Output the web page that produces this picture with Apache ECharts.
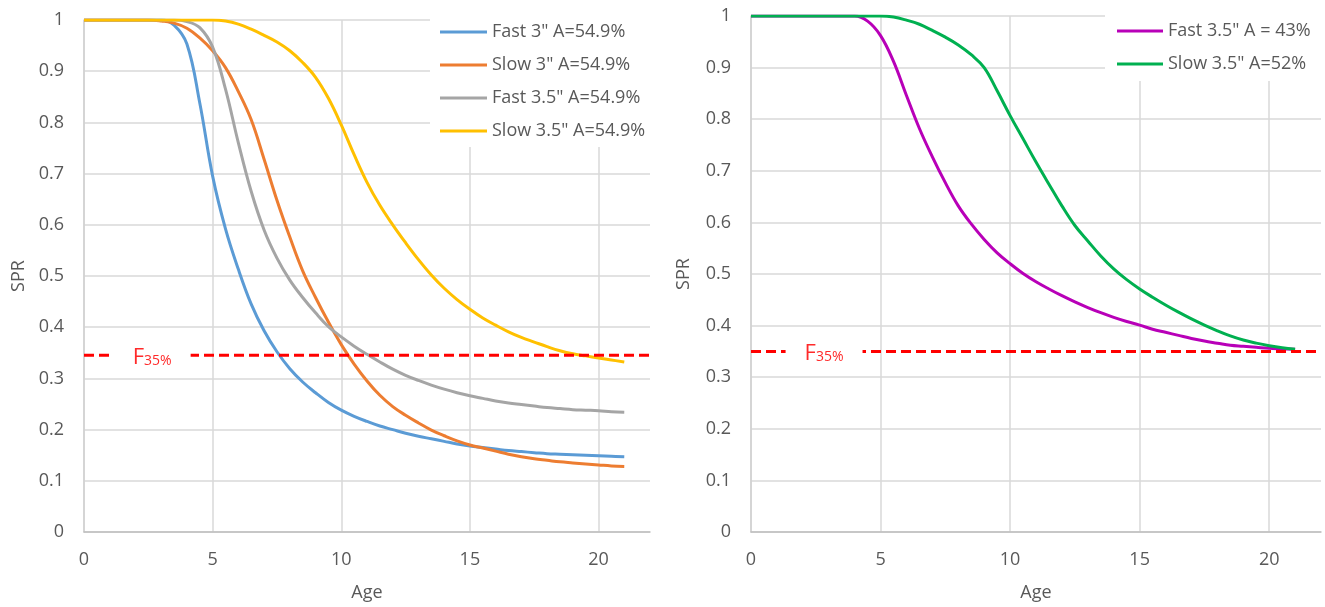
<!DOCTYPE html>
<html>
<head>
<meta charset="utf-8">
<script src="https://cdn.jsdelivr.net/npm/echarts@6/dist/echarts.min.js"></script>
<style>
  html, body { margin: 0; padding: 0; background: #fff; }
  #chart { width: 1325px; height: 607px; }
</style>
</head>
<body>
<div id="chart"></div>
<script>
// Age grid (half-year steps) shared by every SPR curve
const ages = [0, 0.5, 1, 1.5, 2, 2.5, 3, 3.5, 4, 4.5, 5, 5.5, 6, 6.5, 7, 7.5, 8, 8.5, 9, 9.5, 10,
              10.5, 11, 11.5, 12, 12.5, 13, 13.5, 14, 14.5, 15, 15.5, 16, 16.5, 17, 17.5, 18, 18.5, 19, 19.5, 20, 20.5, 21];

// Left panel: A = 54.9%
const fast3 = [1, 1, 1, 1, 1, 1, 1, 0.99, 0.953, 0.838, 0.695, 0.592, 0.513, 0.445, 0.393, 0.352, 0.319, 0.293, 0.272, 0.253, 0.238,
               0.226, 0.216, 0.207, 0.2, 0.193, 0.187, 0.182, 0.177, 0.172, 0.168, 0.165, 0.162, 0.159, 0.157, 0.155, 0.153, 0.152, 0.151, 0.15, 0.149, 0.148, 0.147];
const slow3 = [1, 1, 1, 1, 1, 1, 0.998, 0.994, 0.984, 0.965, 0.94, 0.907, 0.86, 0.805, 0.728, 0.648, 0.576, 0.51, 0.458, 0.41, 0.366,
               0.328, 0.295, 0.267, 0.245, 0.228, 0.213, 0.199, 0.188, 0.178, 0.17, 0.164, 0.158, 0.152, 0.147, 0.143, 0.14, 0.137, 0.135, 0.133, 0.131, 0.129, 0.128];
const fast35 = [1, 1, 1, 1, 1, 1, 1, 1, 0.997, 0.985, 0.947, 0.865, 0.76, 0.665, 0.59, 0.535, 0.492, 0.458, 0.428, 0.401, 0.381,
                0.363, 0.347, 0.332, 0.318, 0.306, 0.296, 0.287, 0.279, 0.272, 0.266, 0.261, 0.256, 0.252, 0.249, 0.246, 0.243, 0.241, 0.239, 0.238, 0.237, 0.235, 0.234];
const slow35 = [1, 1, 1, 1, 1, 1, 1, 1, 1, 1, 1, 0.998, 0.992, 0.982, 0.97, 0.957, 0.94, 0.917, 0.888, 0.847, 0.795,
                0.737, 0.683, 0.638, 0.6, 0.565, 0.532, 0.502, 0.476, 0.454, 0.435, 0.418, 0.404, 0.391, 0.38, 0.371, 0.362, 0.354, 0.348, 0.344, 0.34, 0.336, 0.332];

// Right panel: 3.5" fish with their own A
const fast35b = [1, 1, 1, 1, 1, 1, 1, 1, 1, 0.99, 0.962, 0.912, 0.846, 0.782, 0.727, 0.677, 0.632, 0.597, 0.567, 0.541, 0.52,
                 0.501, 0.485, 0.471, 0.458, 0.446, 0.435, 0.425, 0.416, 0.408, 0.401, 0.393, 0.387, 0.381, 0.375, 0.37, 0.366, 0.362, 0.36, 0.358, 0.356, 0.355, 0.354];
const slow35b = [1, 1, 1, 1, 1, 1, 1, 1, 1, 1, 1, 0.998, 0.992, 0.984, 0.972, 0.959, 0.944, 0.925, 0.9, 0.855, 0.807,
                 0.762, 0.717, 0.674, 0.632, 0.594, 0.564, 0.535, 0.51, 0.489, 0.471, 0.455, 0.44, 0.426, 0.413, 0.401, 0.39, 0.38, 0.372, 0.366, 0.361, 0.357, 0.354];

const leftNames = ['Fast 3" A=54.9%', 'Slow 3" A=54.9%', 'Fast 3.5" A=54.9%', 'Slow 3.5" A=54.9%'];
const rightNames = ['Fast 3.5" A = 43%', 'Slow 3.5" A=52%'];

// F35% reference level and the age where its label sits
const f35Left = 0.345;
const f35Right = 0.35;
const f35LabelAgeLeft = 2.65;
const f35LabelAgeRight = 2.82;
const ageExtent = [0, 22];

const FONT = '"Open Sans", sans-serif';
const TEXT = '#595959';

const pairs = vals => ages.map((a, i) => [a, vals[i]]);

function curve(name, vals, color, idx) {
  return {
    name, type: 'line', xAxisIndex: idx, yAxisIndex: idx,
    data: pairs(vals), showSymbol: false, smooth: 0.4,
    lineStyle: { color, width: 3 }, itemStyle: { color },
    z: 2, silent: true
  };
}

function refLine(level, idx) {
  return {
    name: 'F35', type: 'line', xAxisIndex: idx, yAxisIndex: idx,
    data: ageExtent.map(a => [a, level]), showSymbol: false,
    lineStyle: { color: '#ff0000', width: 3, type: [10, 5] },
    z: 3, silent: true
  };
}

function refLabel(level, age, idx) {
  return {
    name: 'F35 label', type: 'scatter', xAxisIndex: idx, yAxisIndex: idx,
    data: [[age, level]], symbolSize: 0, z: 4, silent: true,
    itemStyle: { opacity: 1 },
    label: {
      show: true, position: 'inside', formatter: '{f|F}{s|35%}', opacity: 1,
      backgroundColor: '#ffffff', padding: [2, 19, 2, 19], offset: [0, 0],
      rich: {
        f: { fontFamily: FONT, fontSize: 22, color: '#ff2a2a', lineHeight: 26, verticalAlign: 'bottom' },
        s: { fontFamily: FONT, fontSize: 14, color: '#ff2a2a', lineHeight: 18, verticalAlign: 'bottom' }
      }
    }
  };
}

function xAxis(idx) {
  return {
    type: 'value', gridIndex: idx, min: ageExtent[0], max: ageExtent[1], interval: 5,
    name: 'Age', nameLocation: 'middle', nameGap: 52,
    nameTextStyle: { fontFamily: FONT, fontSize: 18, color: TEXT },
    axisLine: { show: true, lineStyle: { color: '#bfbfbf', width: 1.5 } },
    axisTick: { show: false },
    axisLabel: { margin: 19, fontFamily: FONT, fontSize: 18, color: TEXT, showMaxLabel: false },
    splitLine: { show: true, showMaxLine: false, lineStyle: { color: '#d9d9d9', width: 1.5 } }
  };
}

function yAxis(idx, gap) {
  return {
    type: 'value', gridIndex: idx, min: 0, max: 1, interval: 0.1,
    name: 'SPR', nameLocation: 'middle', nameGap: gap,
    nameTextStyle: { fontFamily: FONT, fontSize: 18, color: TEXT },
    axisLine: { show: true, lineStyle: { color: '#d0d0d0', width: 1.5 } },
    axisTick: { show: false },
    axisLabel: { margin: 20, fontFamily: FONT, fontSize: 18, color: TEXT },
    splitLine: { show: true, lineStyle: { color: '#d9d9d9', width: 1.5 } }
  };
}

function legend(names, left, top, pad, w) {
  return {
    data: names, orient: 'vertical', left, top,
    icon: 'rect', itemWidth: w, itemHeight: 3, itemGap: 13,
    backgroundColor: '#fff', padding: pad, selectedMode: false,
    textStyle: { fontFamily: FONT, fontSize: 18, color: TEXT, lineHeight: 20 }
  };
}

const chart = echarts.init(document.getElementById('chart'), null, { renderer: 'canvas' });
chart.setOption({
  animation: false,
  backgroundColor: '#fff',
  grid: [
    { left: 84, top: 20, right: 675, bottom: 74 },
    { left: 751, top: 16, right: 4, bottom: 74 }
  ],
  xAxis: [xAxis(0), xAxis(1)],
  yAxis: [yAxis(0, 56), yAxis(1, 58)],
  legend: [
    legend(leftNames, 430, 8, [14, 10, 6, 10], 47),
    legend(rightNames, 1105, 7, [14, 12, 7, 12], 46)
  ],
  series: [
    curve(leftNames[0], fast3, '#5b9bd5', 0),
    curve(leftNames[1], slow3, '#ed7d31', 0),
    curve(leftNames[2], fast35, '#a5a5a5', 0),
    curve(leftNames[3], slow35, '#ffc000', 0),
    refLine(f35Left, 0),
    refLabel(f35Left, f35LabelAgeLeft, 0),
    curve(rightNames[0], fast35b, '#b800b8', 1),
    curve(rightNames[1], slow35b, '#00b050', 1),
    refLine(f35Right, 1),
    refLabel(f35Right, f35LabelAgeRight, 1)
  ]
});
</script>
</body>
</html>
